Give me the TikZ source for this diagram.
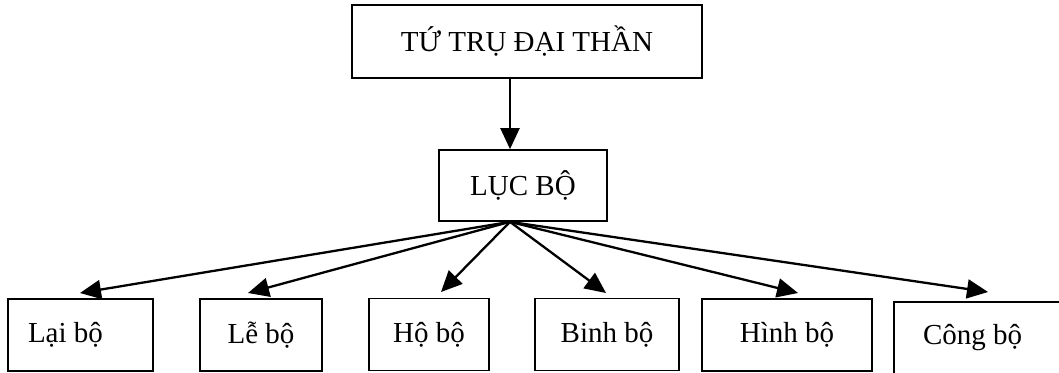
\documentclass[tikz,border=0pt]{standalone}
\usepackage{fontspec}
\setmainfont{Liberation Serif}
\usetikzlibrary{arrows.meta}
\tikzset{
  box/.style={draw, line width=1.7pt, inner sep=0pt, font=\fontsize{29}{34}\selectfont},
  arr/.style={line width=2.3pt, -{Triangle[length=21pt,width=19pt]}},
}
\begin{document}
\begin{tikzpicture}[x=1pt,y=-1pt]
\useasboundingbox (0,0) rectangle (1059,372);
\clip (0,0) rectangle (1059,372);
\node[box, minimum width=350pt, minimum height=73pt] (top) at (527,41.5) {TỨ TRỤ ĐẠI THẦN};
\node[box, minimum width=168pt, minimum height=71pt] (luc) at (523,185.5) {LỤC BỘ};
\node[box, minimum width=145pt, minimum height=72pt] (lai) at (80.5,335) {\makebox[105pt][l]{Lại bộ}};
\node[box, minimum width=122pt, minimum height=72pt] (le) at (261,335) {Lễ bộ};
\node[box, minimum width=120pt, minimum height=72pt] (ho) at (429,334.5) {Hộ bộ};
\node[box, minimum width=144pt, minimum height=72pt] (binh) at (607,334.5) {Binh bộ};
\node[box, minimum width=170pt, minimum height=72pt] (hinh) at (787,335) {Hình bộ};
\node[box, minimum width=170pt, minimum height=72pt] (cong) at (979,338) {\makebox[112pt][l]{Công bộ}};
\coordinate (o) at ([xshift=-13pt]luc.south);
\coordinate (tlai) at (80,293);
\coordinate (tle) at (248,293);
\coordinate (tho) at (441,292);
\coordinate (tbinh) at (606,293);
\coordinate (thinh) at (798,293);
\coordinate (tcong) at (988,292);
\draw[arr] (top.south -| o) -- (luc.north -| o);
\foreach \t in {tlai,tle,tho,tbinh,thinh,tcong} \draw[arr] (o) -- (\t);
\end{tikzpicture}
\end{document}
